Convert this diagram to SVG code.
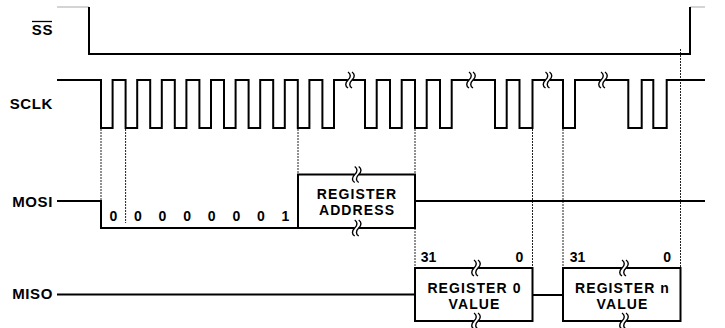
<svg xmlns="http://www.w3.org/2000/svg" xmlns:xlink="http://www.w3.org/1999/xlink" width="725" height="328" viewBox="0 0 725 328">
<style>
.sig{fill:none;stroke:#000;stroke-width:2;stroke-linejoin:miter}
.box{fill:#fff;stroke:#000;stroke-width:2}
.dash{fill:none;stroke:#222;stroke-width:1;stroke-dasharray:2 1}
.lbl{font-family:"Liberation Sans",Arial,sans-serif;font-weight:bold;font-size:15px;letter-spacing:0.6px;fill:#000}
.blbl{font-family:"Liberation Sans",Arial,sans-serif;font-weight:bold;font-size:14px;letter-spacing:1.1px;fill:#000;text-anchor:middle}
.bit{font-family:"Liberation Sans",Arial,sans-serif;font-weight:bold;font-size:14px;fill:#000;text-anchor:middle}
.end{text-anchor:end}
</style>
<defs>
<g id="brk">
<rect x="-2.2" y="-3" width="4.4" height="6" fill="#fff"/>
<path d="M-2,-8 C1,-6 1,-3 -2,0 S-5,6 -2,8 M2,-8 C5,-6 5,-3 2,0 S-1,6 2,8" fill="none" stroke="#000" stroke-width="1.4"/>
</g>
</defs>
<rect width="725" height="328" fill="#fff"/>

<g id="connectors">
<line class="dash" x1="101" y1="129" x2="101" y2="201"/>
<line class="dash" x1="125.6" y1="129" x2="125.6" y2="223"/>
<line class="dash" x1="298" y1="129" x2="298" y2="174"/>
<line class="dash" x1="415" y1="129" x2="415" y2="174"/>
<line class="dash" x1="415" y1="228" x2="415" y2="268"/>
<line class="dash" x1="532.5" y1="129" x2="532.5" y2="268"/>
<line class="dash" x1="563" y1="129" x2="563" y2="268"/>
<line class="dash" x1="680.5" y1="49" x2="680.5" y2="268"/>
</g>

<g id="ss">
<text class="lbl end" x="53" y="35">SS</text>
<line x1="32" y1="21.5" x2="52" y2="21.5" stroke="#000" stroke-width="1.3"/>
<path d="M57,7 H89 M690,7 H705" fill="none" stroke="#aaa" stroke-width="1.2"/>
<path class="sig" d="M89,7 V54 H690 V7"/>
</g>

<g id="sclk">
<text class="lbl end" x="53" y="108.5">SCLK</text>
<path class="sig" d="M57,80 H101 V128 H112.6 V80 H125.6 V128 H137.2 V80 H150.2 V128 H161.8 V80 H174.8 V128 H186.4 V80 H199.4 V128 H211 V80 H224 V128 H235.6 V80 H248.6 V128 H260.2 V80 H273.2 V128 H284.8 V80 H297.8 V128 H309.4 V80 H322.4 V128 H334 V80 H365 V128 H376.7 V80 H390 V128 H401.7 V80 H415 V128 H426.7 V80 H440 V128 H451.7 V80 H495 V128 H506.7 V80 H519.5 V128 H532.5 V80 H563 V128 H575 V80 H628.3 V128 H641.7 V80 H653.3 V128 H666.7 V80 H705"/>
<use xlink:href="#brk" x="350" y="80"/>
<use xlink:href="#brk" x="471" y="80"/>
<use xlink:href="#brk" x="547.5" y="80"/>
<use xlink:href="#brk" x="603" y="80"/>
</g>

<g id="mosi">
<text class="lbl end" x="53" y="206.7">MOSI</text>
<path class="sig" d="M57,201 H101 V228 H298"/>
<path class="sig" d="M415,201 H705"/>
<text class="bit" x="113.3" y="221">0</text>
<text class="bit" x="137.9" y="221">0</text>
<text class="bit" x="162.5" y="221">0</text>
<text class="bit" x="187.1" y="221">0</text>
<text class="bit" x="211.7" y="221">0</text>
<text class="bit" x="236.3" y="221">0</text>
<text class="bit" x="260.9" y="221">0</text>
<text class="bit" x="285.5" y="221">1</text>
</g>

<g id="reg-addr">
<rect class="box" x="298" y="174.5" width="117" height="53.5"/>
<text class="blbl" x="357" y="198.5">REGISTER</text>
<text class="blbl" x="357" y="215">ADDRESS</text>
<use xlink:href="#brk" x="356.7" y="174.5"/>
<use xlink:href="#brk" x="356.7" y="228"/>
</g>

<g id="miso">
<text class="lbl end" x="53" y="299.3">MISO</text>
<path class="sig" d="M57,294.5 H415 M532.5,295 H563"/>
</g>

<g id="reg0">
<rect class="box" x="415" y="268" width="117.5" height="53"/>
<text class="blbl" x="474.5" y="292.8">REGISTER 0</text>
<text class="blbl" x="474.5" y="309.3">VALUE</text>
<text class="bit" x="428.5" y="261.7">31</text>
<text class="bit" x="519.3" y="261.7">0</text>
<use xlink:href="#brk" x="476" y="268"/>
<use xlink:href="#brk" x="476" y="321"/>
</g>

<g id="regn">
<rect class="box" x="563" y="268" width="117.5" height="53"/>
<text class="blbl" x="622.5" y="292.8">REGISTER n</text>
<text class="blbl" x="622.5" y="309.3">VALUE</text>
<text class="bit" x="577.5" y="261.7">31</text>
<text class="bit" x="667.2" y="261.7">0</text>
<use xlink:href="#brk" x="624" y="268"/>
<use xlink:href="#brk" x="624" y="321"/>
</g>
</svg>
